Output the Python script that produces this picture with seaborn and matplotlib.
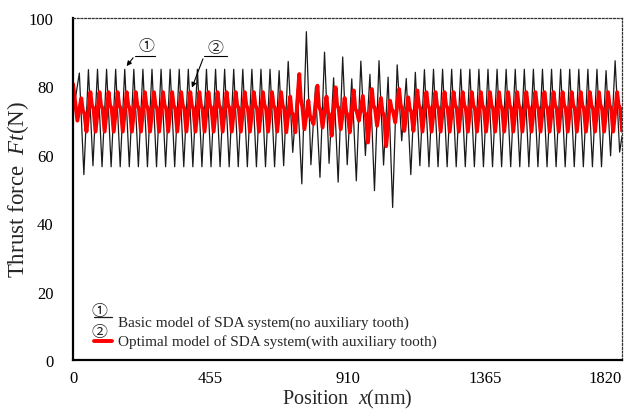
import numpy as np
import pandas as pd
import seaborn as sns
import matplotlib.pyplot as plt

# pitch of the thrust ripple (mm) and where the first black crest sits
pitch = 30.1
first_crest = 21.0
x_end = 1820

# (1) basic model, black: crest / valley value in every pitch
black_start = 72.0
black_crest = ([83.9, 84.9] + [85.0] * 20
               + [84.6, 87.3, 79.2, 96.0, 79.7, 90.0, 82.5, 88.6, 82.2,
                  87.4, 83.5, 87.5, 82.7, 86.3, 82.3, 84.1, 84.9]
               + [85.0] * 19 + [84.6, 87.5])
black_valley = ([54.2, 56.8] + [56.5] * 20
                + [56.8, 60.7, 51.5, 57.1, 53.4, 57.5, 52.0, 57.1,
                   52.4, 59.8, 49.5, 57.0, 44.6, 64.1, 54.2, 56.8]
                + [56.5] * 20 + [59.7, 60.8])
black_end = 65.6

# (2) optimal model, red: valley / crest / shoulder in every pitch
red_start = 80.7
red_valley = ([70.0] + [66.8] * 22
              + [66.6, 66.6, 67.5, 69.0, 68.0, 65.6, 67.5, 66.6,
                 70.0, 63.6, 68.5, 62.5, 69.5, 67.0, 67.0]
              + [66.8] * 22)
red_crest = ([76.5] + [78.3] * 22
             + [77.0, 83.6, 75.8, 80.2, 77.0, 79.7, 76.6, 78.8,
                77.2, 79.2, 76.6, 75.8, 79.2, 76.8, 78.8]
             + [78.3] * 22)
red_shoulder_hi = ([73.0] + [74.5] * 22
                   + [72.5, 76.3, 71.5, 74.0, 72.5, 74.5, 72.5, 73.5,
                      72.5, 74.5, 72.5, 73.5, 74.5, 73.5, 74.5]
                   + [74.5] * 22)
red_shoulder_lo = ([72.0] + [73.5] * 22
                   + [71.5, 74.0, 70.5, 73.0, 71.5, 73.5, 71.5, 72.5,
                      71.5, 73.5, 71.5, 72.5, 73.5, 72.5, 73.5]
                   + [73.5] * 22)
red_end = 67.0

xticks = [0, 455, 910, 1365, 1820]
yticks = [0, 20, 40, 60, 80, 100]

# assemble the two curves
n = len(black_crest)
crest_x = first_crest + pitch * np.arange(n)

bx = [0.0]
by = [black_start]
for k in range(n):
    bx += [crest_x[k], crest_x[k] + pitch / 2]
    by += [black_crest[k], black_valley[k]]
bx.append(x_end)
by.append(black_end)

rx = [0.0]
ry = [red_start]
for k in range(n):
    rx += [crest_x[k] - 6.5, crest_x[k] + 6.5, crest_x[k] + 11.5, crest_x[k] + 17.0]
    ry += [red_valley[k], red_crest[k], red_shoulder_hi[k], red_shoulder_lo[k]]
rx.append(x_end)
ry.append(red_end)

df_black = pd.DataFrame({'x': bx, 'F': by})
df_red = pd.DataFrame({'x': rx, 'F': ry})

sns.set_style('white')
plt.rcParams['font.family'] = ['Liberation Serif', 'Noto Sans CJK JP', 'DejaVu Sans']
plt.rcParams['mathtext.fontset'] = 'custom'
plt.rcParams['mathtext.rm'] = 'Liberation Serif'
plt.rcParams['mathtext.it'] = 'Liberation Serif:italic'

fig = plt.figure(figsize=(6.37, 4.10), dpi=100)
ax = fig.add_axes([0.1146, 0.1195, 0.862, 0.8342])

sns.lineplot(data=df_black, x='x', y='F', sort=False, estimator=None,
             color='#1a1a1a', linewidth=0.9, ax=ax)
sns.lineplot(data=df_red, x='x', y='F', sort=False, estimator=None,
             color='#ff0000', linewidth=2.8, ax=ax)
for ln in ax.lines:
    ln.set_solid_joinstyle('round')

ax.set_xlim(0, 1820)
ax.set_ylim(0, 100)
ax.set_xticks(xticks)
ax.set_yticks(yticks)
ax.tick_params(direction='in', length=4, width=1.2, labelsize=12,
               top=False, right=False, colors='black')
ax.tick_params(axis='x', pad=7)
ax.tick_params(axis='y', pad=14)
# the last x label sits flush with the right end of the axis
ax.get_xticklabels()[-1].set_horizontalalignment('right')

ax.set_xlabel('Position  $x$(mm)', fontsize=14.5)
ax.xaxis.set_label_coords(0.5, -0.08)
ax.set_ylabel('Thrust force  $Ft$(N)', fontsize=16.5)
ax.yaxis.label.set_verticalalignment('center')
ax.yaxis.set_label_coords(-0.1, 0.5)

for s in ['left', 'bottom']:
    ax.spines[s].set_color('black')
    ax.spines[s].set_linewidth(1.6)
for s in ['top', 'right']:
    ax.spines[s].set_color('#333333')
    ax.spines[s].set_linewidth(0.9)
    ax.spines[s].set_linestyle((0, (1.5, 1.5)))

# callouts (1) and (2)
cfont = ['Noto Sans CJK JP', 'DejaVu Sans']
ax.text(242, 92.1, '①', family=cfont, fontsize=11.5, ha='center', va='center')
ax.plot([205, 272], [89.0, 89.0], color='black', lw=0.8)
ax.annotate('', xy=(172, 85.3), xytext=(205, 89.0),
            arrowprops=dict(arrowstyle='-|>', color='black', lw=0.8, mutation_scale=7))
ax.text(471, 91.5, '②', family=cfont, fontsize=11.5, ha='center', va='center')
ax.plot([434, 510], [88.8, 88.8], color='black', lw=0.8)
ax.annotate('', xy=(391, 78.9), xytext=(434, 88.8),
            arrowprops=dict(arrowstyle='-|>', color='black', lw=0.8, mutation_scale=7))

# legend drawn by hand: circled number above a short key line
ta = ax.transAxes
ax.text(0.0485, 0.146, '①', family=cfont, fontsize=11.5, ha='center', va='center', transform=ta)
ax.plot([0.038, 0.071], [0.125, 0.125], color='#1a1a1a', lw=0.9, transform=ta)
ax.text(0.0825, 0.111, 'Basic model of SDA system(no auxiliary tooth)',
        fontsize=11, ha='left', va='center', transform=ta)
ax.text(0.0485, 0.082, '②', family=cfont, fontsize=11.5, ha='center', va='center', transform=ta)
ax.plot([0.038, 0.071], [0.055, 0.055], color='#ff0000', lw=2.8, transform=ta)
ax.text(0.0825, 0.056, 'Optimal model of SDA system(with auxiliary tooth)',
        fontsize=11, ha='left', va='center', transform=ta)

plt.savefig('out.png', dpi=100)
